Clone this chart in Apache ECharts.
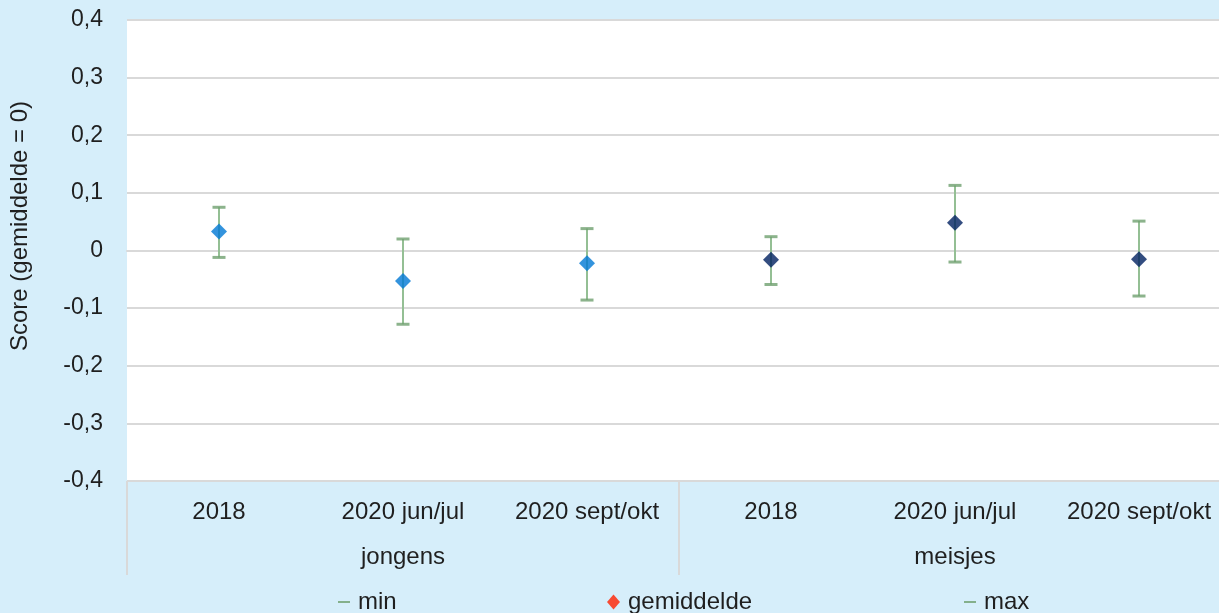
<!DOCTYPE html>
<html>
<head>
<meta charset="utf-8">
<script src="https://cdn.jsdelivr.net/npm/echarts@6/dist/echarts.min.js"></script>
<style>
html,body{margin:0;padding:0;background:#d6eefa;overflow:hidden;}
#c{width:1240px;height:613px;}
</style>
</head>
<body>
<div id="c"></div>
<script>
var categories = ['2018', '2020 jun/jul', '2020 sept/okt', '2018', '2020 jun/jul', '2020 sept/okt'];
var groups = ['jongens', 'meisjes'];
var pointGroup = [0, 0, 0, 1, 1, 1];
var meanValues = [0.033, -0.053, -0.022, -0.016, 0.048, -0.015];
var minValues = [-0.012, -0.128, -0.086, -0.059, -0.020, -0.079];
var maxValues = [0.075, 0.020, 0.038, 0.024, 0.113, 0.051];
var yTicks = { min: -0.4, max: 0.4, step: 0.1 };

var groupColors = ['#0078d4', '#002060'];
var FONT = 'Liberation Sans, Arial, sans-serif';
var TXT = '#1f1f1f';

var chart = echarts.init(document.getElementById('c'));

var meanData = meanValues.map(function (v, i) {
  return { value: [i, v], itemStyle: { color: groupColors[pointGroup[i]] } };
});
var minData = minValues.map(function (v, i) { return [i, v]; });
var maxData = maxValues.map(function (v, i) { return [i, v]; });
var hlData = minValues.map(function (v, i) { return [i, v, maxValues[i]]; });

function fmt(v) {
  var r = Math.round(v * 10) / 10;
  if (Math.abs(r) < 1e-9) return '0';
  return r.toFixed(1).replace('.', ',');
}

var legendText = { fontSize: 24, color: TXT, fontFamily: FONT, padding: [0, 0, 0, 3] };

var option = {
  backgroundColor: '#d6eefa',
  animation: false,
  textStyle: { fontFamily: FONT },
  grid: {
    left: 127, top: 20, width: 1104, height: 461,
    show: true, backgroundColor: '#ffffff', borderWidth: 0
  },
  xAxis: [
    {
      type: 'category', data: categories, position: 'bottom',
      boundaryGap: true,
      axisLine: { show: true, lineStyle: { color: '#d9d9d9', width: 2 } },
      axisTick: { show: false },
      axisLabel: { interval: 0, margin: 19, fontSize: 24, color: TXT, fontFamily: FONT },
      splitLine: { show: false }
    },
    {
      type: 'category', data: groups, position: 'bottom',
      boundaryGap: true,
      axisLine: { show: false },
      axisTick: { show: true, interval: 0, length: 94, lineStyle: { color: '#d9d9d9', width: 2 } },
      axisLabel: { interval: 0, margin: 64, fontSize: 24, color: TXT, fontFamily: FONT },
      splitLine: { show: false }
    }
  ],
  yAxis: {
    type: 'value', min: yTicks.min, max: yTicks.max, interval: yTicks.step,
    axisLine: { show: false },
    axisTick: { show: false },
    axisLabel: { margin: 24, fontSize: 23, color: TXT, fontFamily: FONT, formatter: fmt },
    splitLine: { show: true, lineStyle: { color: '#d9d9d9', width: 2 } }
  },
  graphic: [
    {
      type: 'text', x: 20, y: 226, rotation: Math.PI / 2,
      style: {
        text: 'Score (gemiddelde = 0)', fill: TXT, font: '24px ' + FONT,
        textAlign: 'center', textVerticalAlign: 'middle'
      }
    }
  ],
  legend: [
    {
      data: [{ name: 'min', icon: 'rect' }], left: 338, top: 590, padding: 0,
      itemWidth: 12, itemHeight: 2, itemGap: 5,
      textStyle: legendText, selectedMode: false
    },
    {
      data: [{ name: 'gemiddelde', icon: 'diamond' }], left: 607, top: 590, padding: 0,
      itemWidth: 13, itemHeight: 15, itemGap: 5,
      textStyle: legendText, selectedMode: false
    },
    {
      data: [{ name: 'max', icon: 'rect' }], left: 964, top: 590, padding: 0,
      itemWidth: 12, itemHeight: 2, itemGap: 5,
      textStyle: legendText, selectedMode: false
    }
  ],
  series: [
    {
      name: 'hl', type: 'custom', xAxisIndex: 0, z: 1,
      data: hlData,
      encode: { x: 0, y: [1, 2] },
      renderItem: function (params, api) {
        var x = api.value(0);
        var p1 = api.coord([x, api.value(1)]);
        var p2 = api.coord([x, api.value(2)]);
        return {
          type: 'line',
          shape: { x1: p1[0], y1: p1[1], x2: p2[0], y2: p2[1] },
          style: { stroke: '#94bf94', lineWidth: 2 }
        };
      }
    },
    {
      name: 'min', type: 'scatter', xAxisIndex: 0, z: 2,
      symbol: 'rect', symbolSize: [13, 3],
      itemStyle: { color: '#6fa06f' },
      data: minData
    },
    {
      name: 'max', type: 'scatter', xAxisIndex: 0, z: 2,
      symbol: 'rect', symbolSize: [13, 3],
      itemStyle: { color: '#6fa06f' },
      data: maxData
    },
    {
      name: 'gemiddelde', type: 'scatter', xAxisIndex: 0, z: 3,
      symbol: 'diamond', symbolSize: 16,
      itemStyle: { color: '#ff2000' },
      data: meanData
    }
  ]
};
chart.setOption(option);
</script>
</body>
</html>
